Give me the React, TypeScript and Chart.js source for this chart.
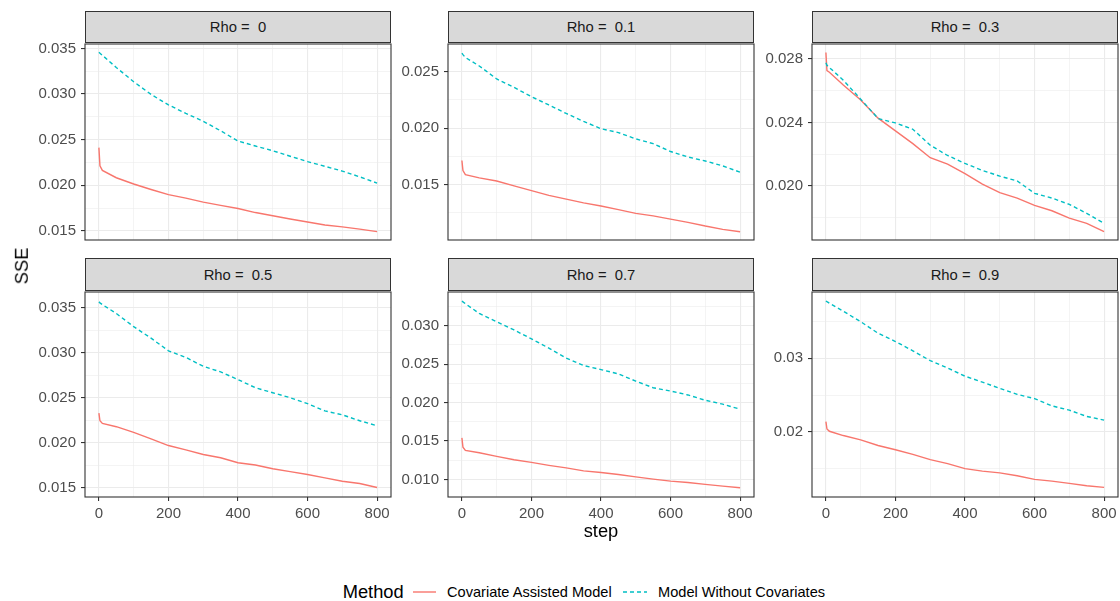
import { useEffect, useRef } from "react";
import { Chart, registerables } from "chart.js";

Chart.register(...registerables);

// ---------------- data ----------------
const rhoLabels = ["Rho =  0", "Rho =  0.1", "Rho =  0.3", "Rho =  0.5", "Rho =  0.7", "Rho =  0.9"];
const seriesNames = ["Covariate Assisted Model", "Model Without Covariates"];

const steps = [0, 3, 10, 50, 100, 150, 200, 250, 300, 350, 400, 450, 500, 550, 600, 650, 700, 750, 800];

const covAssistedRho0 = [0.02412, 0.02214, 0.02162, 0.02082, 0.02013, 0.01953, 0.01897, 0.01859, 0.01815, 0.01779, 0.01745, 0.017, 0.01665, 0.0163, 0.01596, 0.01564, 0.01543, 0.01518, 0.01491];
const noCovRho0 = [0.03458, 0.03448, 0.03425, 0.03291, 0.03135, 0.02996, 0.02881, 0.02788, 0.02701, 0.02597, 0.02485, 0.0243, 0.02378, 0.02318, 0.02259, 0.02207, 0.02155, 0.02092, 0.02023];

const covAssistedRho01 = [0.01713, 0.01623, 0.01587, 0.01559, 0.01531, 0.01488, 0.01446, 0.01404, 0.0137, 0.01337, 0.01309, 0.01278, 0.01244, 0.01222, 0.01193, 0.01165, 0.01132, 0.01103, 0.01081];
const noCovRho01 = [0.02663, 0.0265, 0.02625, 0.0255, 0.02435, 0.0236, 0.02278, 0.02205, 0.02129, 0.02059, 0.01994, 0.0196, 0.01904, 0.01862, 0.01792, 0.01744, 0.01708, 0.01665, 0.01609];

const covAssistedRho03 = [0.0284, 0.02726, 0.02716, 0.02636, 0.02541, 0.02427, 0.02347, 0.02267, 0.02178, 0.02138, 0.02078, 0.02012, 0.01958, 0.01924, 0.01878, 0.01844, 0.01798, 0.01765, 0.01713];
const noCovRho03 = [0.02776, 0.0276, 0.02746, 0.02666, 0.02547, 0.02425, 0.02397, 0.02357, 0.02257, 0.02192, 0.02142, 0.02098, 0.02062, 0.02032, 0.01954, 0.01924, 0.01884, 0.01828, 0.01765];

const covAssistedRho05 = [0.02328, 0.02244, 0.02214, 0.02178, 0.02115, 0.02042, 0.01969, 0.01921, 0.0187, 0.01833, 0.01778, 0.01753, 0.01712, 0.0168, 0.01647, 0.0161, 0.01573, 0.01548, 0.01504];
const noCovRho05 = [0.03563, 0.03552, 0.03533, 0.03434, 0.03288, 0.0316, 0.0302, 0.02947, 0.02848, 0.02786, 0.02701, 0.0261, 0.02555, 0.025, 0.02434, 0.02353, 0.0231, 0.02244, 0.02189];

const covAssistedRho07 = [0.01541, 0.0142, 0.01378, 0.01348, 0.013, 0.01257, 0.01223, 0.01184, 0.0115, 0.01112, 0.0109, 0.01064, 0.01034, 0.01004, 0.00978, 0.00961, 0.00936, 0.00914, 0.00893];
const noCovRho07 = [0.03318, 0.0331, 0.03285, 0.03159, 0.03052, 0.02944, 0.02828, 0.02708, 0.02579, 0.02481, 0.02429, 0.02373, 0.02279, 0.02193, 0.0215, 0.02099, 0.0203, 0.01979, 0.01914];

const covAssistedRho09 = [0.02139, 0.0204, 0.02009, 0.01951, 0.01892, 0.01816, 0.01758, 0.01695, 0.01623, 0.0157, 0.01502, 0.01467, 0.01444, 0.01404, 0.01355, 0.01332, 0.01301, 0.01269, 0.01247];
const noCovRho09 = [0.0378, 0.0377, 0.0375, 0.03641, 0.03498, 0.03341, 0.03229, 0.03103, 0.02969, 0.0287, 0.02758, 0.02677, 0.02592, 0.02511, 0.02453, 0.02354, 0.02296, 0.02211, 0.02161];

const covAssisted = [covAssistedRho0, covAssistedRho01, covAssistedRho03, covAssistedRho05, covAssistedRho07, covAssistedRho09];
const noCov = [noCovRho0, noCovRho01, noCovRho03, noCovRho05, noCovRho07, noCovRho09];

// axis limits (free y scales)
const yMin = [0.01399, 0.010084, 0.0166, 0.01398, 0.00772, 0.01116];
const yMax = [0.03549, 0.027445, 0.02894, 0.036725, 0.034378, 0.039017];

const yMajorTicks = [
  [0.015, 0.02, 0.025, 0.03, 0.035],
  [0.015, 0.02, 0.025],
  [0.02, 0.024, 0.028],
  [0.015, 0.02, 0.025, 0.03, 0.035],
  [0.01, 0.015, 0.02, 0.025, 0.03],
  [0.02, 0.03],
];
const yTickLabels = [
  ["0.015", "0.020", "0.025", "0.030", "0.035"],
  ["0.015", "0.020", "0.025"],
  ["0.020", "0.024", "0.028"],
  ["0.015", "0.020", "0.025", "0.030", "0.035"],
  ["0.010", "0.015", "0.020", "0.025", "0.030"],
  ["0.02", "0.03"],
];
const yMinorTicks = [
  [0.0175, 0.0225, 0.0275, 0.0325],
  [0.0125, 0.0175, 0.0225],
  [0.018, 0.022, 0.026],
  [0.0175, 0.0225, 0.0275, 0.0325],
  [0.0125, 0.0175, 0.0225, 0.0275, 0.0325],
  [0.015, 0.025, 0.035],
];

const xMin = -40;
const xMax = 840;
const xMajorTicks = [0, 200, 400, 600, 800];
const xMinorTicks = [100, 300, 500, 700];

// ---------------- styling ----------------
const FONT = "'Liberation Sans', Arial, Helvetica, sans-serif";
const RED = "#F8766D";
const CYAN = "#00BFC4";
const PANEL_LEFTS = [85, 448, 812];
const PANEL_W = 306;
const PLOT_TOPS = [42, 290];
const PLOT_HS = [206, 207];
const STRIP_TOPS = [11, 258];
const YW = 80;
const PT = 12;
const PR = 12;
const PB = 6;
const XH_BOTTOM = 26;

const isIn = (arr: number[], v: number) => arr.some((m) => Math.abs(m - v) < 1e-9);

const borderPlugin = {
  id: "panelBorder",
  afterDraw(chart: any) {
    const { ctx, chartArea } = chart;
    ctx.save();
    ctx.strokeStyle = "#333333";
    ctx.lineWidth = 1.1;
    ctx.strokeRect(chartArea.left, chartArea.top, chartArea.right - chartArea.left, chartArea.bottom - chartArea.top);
    ctx.restore();
  },
};

function Panel({ idx }: { idx: number }) {
  const ref = useRef<HTMLCanvasElement | null>(null);
  const row = Math.floor(idx / 3);
  const col = idx % 3;
  const bottom = row === 1;
  const xh = bottom ? XH_BOTTOM : 0;
  const width = YW + PANEL_W + PR;
  const height = PT + PLOT_HS[row] + xh + PB;

  useEffect(() => {
    if (!ref.current) return;
    const majors = yMajorTicks[idx];
    const minors = yMinorTicks[idx];
    const labels = yTickLabels[idx];
    const allY = [...majors, ...minors].sort((a, b) => a - b);
    const allX = [...xMajorTicks, ...xMinorTicks].sort((a, b) => a - b);

    const chart = new Chart(ref.current, {
      type: "line",
      data: {
        datasets: [
          {
            label: seriesNames[0],
            data: steps.map((s, i) => ({ x: s, y: covAssisted[idx][i] })),
            borderColor: RED,
            backgroundColor: RED,
            borderWidth: 1.4,
            pointRadius: 0,
            tension: 0,
            order: 1,
          },
          {
            label: seriesNames[1],
            data: steps.map((s, i) => ({ x: s, y: noCov[idx][i] })),
            borderColor: CYAN,
            backgroundColor: CYAN,
            borderWidth: 1.4,
            borderDash: [4, 3],
            pointRadius: 0,
            tension: 0,
            order: 0,
          },
        ],
      },
      options: {
        responsive: false,
        animation: false,
        devicePixelRatio: 1,
        layout: { padding: { top: PT, right: PR, bottom: PB, left: 0 } },
        plugins: { legend: { display: false }, tooltip: { enabled: false } },
        events: [],
        scales: {
          x: {
            type: "linear",
            min: xMin,
            max: xMax,
            afterBuildTicks: (s: any) => {
              s.ticks = allX.map((v) => ({ value: v }));
            },
            afterFit: (s: any) => {
              s.height = xh;
            },
            ticks: {
              display: bottom,
              autoSkip: false,
              maxRotation: 0,
              padding: 4,
              color: "#4D4D4D",
              font: { family: FONT, size: 15 },
              callback: (v: any) => (isIn(xMajorTicks, Number(v)) ? String(v) : ""),
            },
            grid: {
              color: "#EBEBEB",
              lineWidth: (c: any) => (c.tick && isIn(xMajorTicks, c.tick.value) ? 1.1 : 0.55),
              drawTicks: bottom,
              tickLength: 4,
              tickWidth: 1.1,
              tickColor: (c: any) => (c.tick && isIn(xMajorTicks, c.tick.value) ? "#333333" : "rgba(0,0,0,0)"),
            },
            border: { display: false },
          },
          y: {
            type: "linear",
            min: yMin[idx],
            max: yMax[idx],
            afterBuildTicks: (s: any) => {
              s.ticks = allY.map((v) => ({ value: v }));
            },
            afterFit: (s: any) => {
              s.width = YW;
            },
            ticks: {
              autoSkip: false,
              padding: 5,
              color: "#4D4D4D",
              font: { family: FONT, size: 15 },
              callback: (v: any) => {
                const k = majors.findIndex((m) => Math.abs(m - Number(v)) < 1e-9);
                return k >= 0 ? labels[k] : "";
              },
            },
            grid: {
              color: "#EBEBEB",
              lineWidth: (c: any) => (c.tick && isIn(majors, c.tick.value) ? 1.1 : 0.55),
              drawTicks: true,
              tickLength: 4,
              tickWidth: 1.1,
              tickColor: (c: any) => (c.tick && isIn(majors, c.tick.value) ? "#333333" : "rgba(0,0,0,0)"),
            },
            border: { display: false },
          },
        },
      } as any,
      plugins: [borderPlugin],
    });
    return () => chart.destroy();
  }, [idx]);

  const left = PANEL_LEFTS[col];
  const stripTop = STRIP_TOPS[row];
  const plotTop = PLOT_TOPS[row];

  return (
    <>
      <canvas
        ref={ref}
        width={width}
        height={height}
        style={{ position: "absolute", left: left - YW, top: plotTop - PT, width, height }}
      />
      <div
        style={{
          position: "absolute",
          left,
          top: stripTop,
          width: PANEL_W,
          height: plotTop - stripTop + 1,
          boxSizing: "border-box",
          border: "1.1px solid #333333",
          background: "#D9D9D9",
          display: "flex",
          alignItems: "center",
          justifyContent: "center",
          fontFamily: FONT,
          fontSize: 14.8,
          color: "#1A1A1A",
          whiteSpace: "pre",
        }}
      >
        {rhoLabels[idx]}
      </div>
    </>
  );
}

export default function App() {
  return (
    <div
      style={{
        position: "absolute",
        left: 0,
        top: 0,
        width: 1120,
        height: 601,
        background: "#FFFFFF",
        overflow: "hidden",
        fontFamily: FONT,
      }}
    >
      {rhoLabels.map((_, i) => (
        <Panel key={i} idx={i} />
      ))}
      {/* axis titles */}
      <div
        style={{
          position: "absolute",
          left: 21.5,
          top: 266,
          transform: "translate(-50%, -50%) rotate(-90deg)",
          fontSize: 18.3,
          color: "#000",
          lineHeight: 1,
          whiteSpace: "nowrap",
        }}
      >
        SSE
      </div>
      <div
        style={{
          position: "absolute",
          left: 601,
          top: 522,
          transform: "translateX(-50%)",
          fontSize: 18.3,
          color: "#000",
          lineHeight: 1,
          whiteSpace: "nowrap",
        }}
      >
        step
      </div>
      {/* legend */}
      <div style={{ position: "absolute", left: 342.7, top: 583, fontSize: 18.3, lineHeight: 1, color: "#000" }}>Method</div>
      <svg style={{ position: "absolute", left: 412, top: 586 }} width={26} height={12}>
        <line x1={1} y1={6} x2={24} y2={6} stroke={RED} strokeWidth={1.4} />
      </svg>
      <div style={{ position: "absolute", left: 447, top: 585, fontSize: 14.6, lineHeight: 1, color: "#000", whiteSpace: "nowrap" }}>
        {seriesNames[0]}
      </div>
      <svg style={{ position: "absolute", left: 622, top: 586 }} width={26} height={12}>
        <line x1={1} y1={6} x2={25} y2={6} stroke={CYAN} strokeWidth={1.4} strokeDasharray="4 3" />
      </svg>
      <div style={{ position: "absolute", left: 658, top: 585, fontSize: 14.6, lineHeight: 1, color: "#000", whiteSpace: "nowrap" }}>
        {seriesNames[1]}
      </div>
    </div>
  );
}
